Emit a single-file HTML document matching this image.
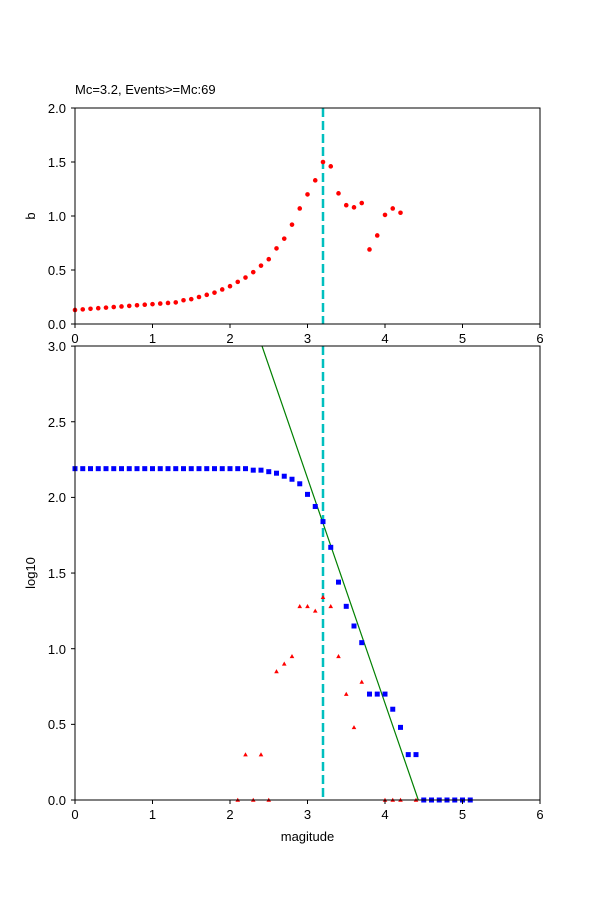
<!DOCTYPE html>
<html><head><meta charset="utf-8"><style>
body{margin:0;background:#fff}
svg text{font-family:"Liberation Sans","DejaVu Sans",sans-serif;font-size:13px;fill:#000}
</style></head><body>
<svg id="s" width="600" height="900" xmlns="http://www.w3.org/2000/svg">
<defs>
<clipPath id="c2"><rect x="75" y="346" width="465" height="454"/></clipPath>
</defs>
<g id="pts"></g>
<line x1="323" y1="108" x2="323" y2="324" stroke="#00bfbf" stroke-width="2.5" stroke-dasharray="9,4"/>
<line x1="323" y1="346" x2="323" y2="800" stroke="#00bfbf" stroke-width="2.5" stroke-dasharray="9,4"/>
<line x1="262" y1="346" x2="418.3" y2="800" stroke="#008000" stroke-width="1.2" clip-path="url(#c2)"/>
<g id="pts2"></g>
<rect x="75" y="108" width="465" height="216" fill="none" stroke="#000" stroke-width="1"/>
<rect x="75" y="346" width="465" height="454" fill="none" stroke="#000" stroke-width="1"/>
<g id="ticks" stroke="#000" stroke-width="1"></g>
<text x="75" y="94">Mc=3.2, Events&gt;=Mc:69</text>
<g text-anchor="end">
<text x="66" y="329">0.0</text><text x="66" y="275">0.5</text><text x="66" y="221">1.0</text><text x="66" y="167">1.5</text><text x="66" y="113">2.0</text>
<text x="66" y="805">0.0</text><text x="66" y="729">0.5</text><text x="66" y="654">1.0</text><text x="66" y="578">1.5</text><text x="66" y="502">2.0</text><text x="66" y="427">2.5</text><text x="66" y="351">3.0</text>
</g>
<g text-anchor="middle">
<text x="75" y="343">0</text><text x="152.5" y="343">1</text><text x="230" y="343">2</text><text x="307.5" y="343">3</text><text x="385" y="343">4</text><text x="462.5" y="343">5</text><text x="540" y="343">6</text>
<text x="75" y="819">0</text><text x="152.5" y="819">1</text><text x="230" y="819">2</text><text x="307.5" y="819">3</text><text x="385" y="819">4</text><text x="462.5" y="819">5</text><text x="540" y="819">6</text>
<text x="307.5" y="841">magitude</text>
<text transform="translate(35,216) rotate(-90)">b</text>
<text transform="translate(35,573) rotate(-90)">log10</text>
</g>
</svg>
<script>
var NS="http://www.w3.org/2000/svg";
function el(t,a,p){var e=document.createElementNS(NS,t);for(var k in a)e.setAttribute(k,a[k]);document.getElementById(p).appendChild(e);}
function X(m){return 75+77.5*m;}
var b=[];
for(var i=0;i<=13;i++)b.push(0.13+0.07*i/13);
b=b.concat([0.22,0.23,0.25,0.27,0.29,0.32,0.35,0.39,0.43,0.48,0.54,0.60,0.70,0.79,0.92,1.07,1.2,1.33,1.5,1.46,1.21,1.1,1.08,1.12,0.69,0.82,1.01,1.07,1.03]);
b.forEach(function(v,i){el("circle",{cx:X(i/10),cy:324-108*v,r:2.3,fill:"red"},"pts2");});
var L=[];for(i=0;i<23;i++)L.push(2.19);
L=L.concat([2.18,2.18,2.17,2.16,2.14,2.12,2.09,2.02,1.94,1.84,1.67,1.44,1.28,1.15,1.04,0.70,0.70,0.70,0.60,0.48,0.30,0.30,0,0,0,0,0,0,0]);
L.forEach(function(v,i){var x=X(i/10),y=800-151.3*v;el("rect",{x:x-2.5,y:y-2.5,width:5,height:5,fill:"blue"},"pts2");});
var T=[[2.1,0],[2.2,.3],[2.3,0],[2.4,.3],[2.5,0],[2.6,.85],[2.7,.9],[2.8,.95],[2.9,1.28],[3.0,1.28],[3.1,1.25],[3.2,1.34],[3.3,1.28],[3.4,.95],[3.5,.7],[3.6,.48],[3.7,.78],[4.0,0],[4.1,0],[4.2,0],[4.4,0]];
T.forEach(function(p){var x=X(p[0]),y=800-151.3*p[1];el("polygon",{points:(x)+","+(y-2.3)+" "+(x-2.3)+","+(y+1.8)+" "+(x+2.3)+","+(y+1.8),fill:"red"},"pts2");});
for(i=0;i<=6;i++){el("line",{x1:X(i),x2:X(i),y1:324,y2:328},"ticks");el("line",{x1:X(i),x2:X(i),y1:800,y2:804},"ticks");}
for(i=0;i<=4;i++){var y=324-54*i;el("line",{x1:71,x2:75,y1:y,y2:y},"ticks");}
for(i=0;i<=6;i++){var y=800-75.65*i;el("line",{x1:71,x2:75,y1:y,y2:y},"ticks");}
</script>
</body></html>
